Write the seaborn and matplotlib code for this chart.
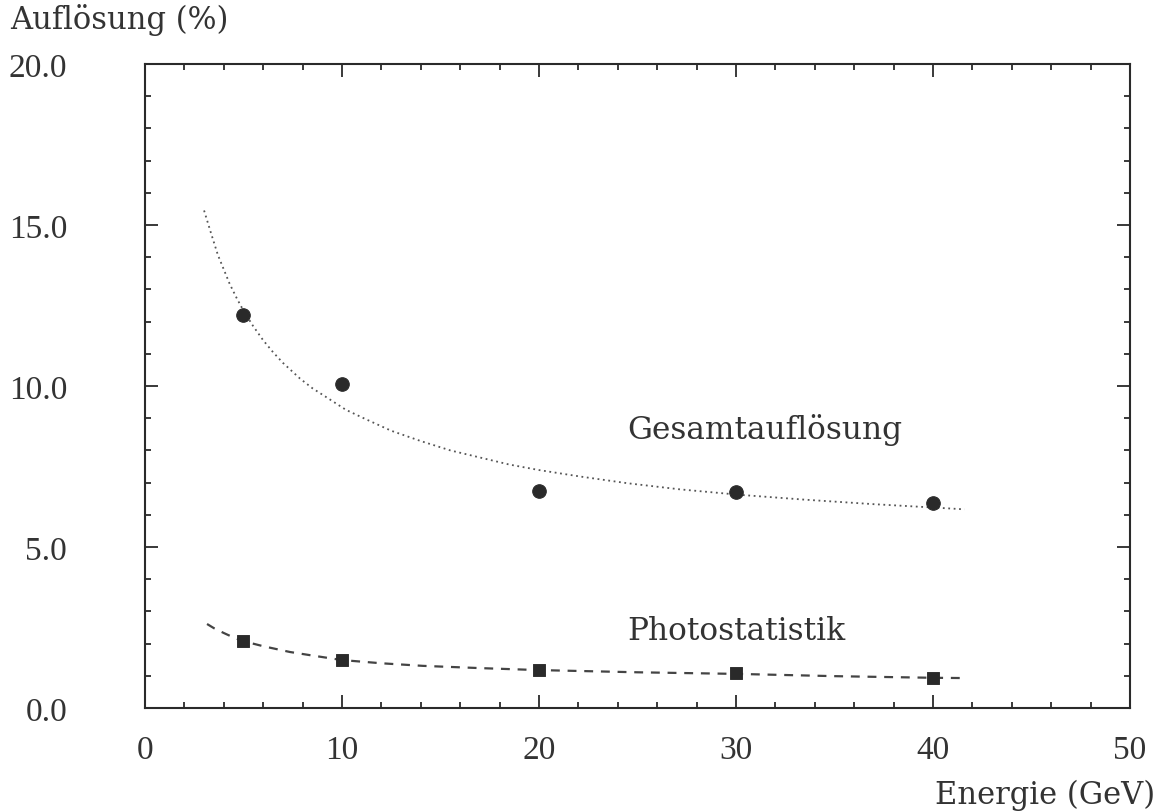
import matplotlib
matplotlib.use("Agg")
import matplotlib.pyplot as plt
import seaborn as sns
import pandas as pd
from matplotlib.ticker import MultipleLocator, FormatStrFormatter

# Messpunkte
energie = [5, 10, 20, 30, 40]
gesamt = [12.22, 10.05, 6.75, 6.72, 6.38]
photo = [2.08, 1.49, 1.18, 1.09, 0.93]

fit_gesamt_x = [3.0, 3.35, 3.7, 3.96, 4.3, 4.67, 5.0, 5.48, 6.0, 6.5, 7.0, 7.87, 8.5, 9.39,
                10.2, 11.17, 12.5, 14.0, 15.5, 17.0, 18.5, 20.0, 22.08, 24.5, 27.16, 30.2,
                33.5, 37.0, 40.2, 41.6]
fit_gesamt_y = [15.45, 14.75, 14.07, 13.68, 13.17, 12.71, 12.34, 11.87, 11.42, 11.05, 10.72,
                10.23, 9.93, 9.58, 9.26, 8.98, 8.61, 8.29, 8.00, 7.78, 7.56, 7.39, 7.19,
                6.98, 6.79, 6.62, 6.47, 6.33, 6.22, 6.17]
fit_photo_x = [3.15, 3.5, 4.0, 4.5, 4.97, 6.0, 7.36, 8.5, 10.0, 12.0, 14.1, 17.0, 19.9,
               25.0, 30.05, 35.0, 39.9, 41.7]
fit_photo_y = [2.61, 2.48, 2.33, 2.19, 2.08, 1.92, 1.74, 1.63, 1.49, 1.39, 1.31, 1.24, 1.18,
               1.11, 1.06, 0.99, 0.94, 0.93]

sns.set_theme(style="ticks")
plt.rcParams["font.family"] = ["DejaVu Serif"]
ink = "#2a2a2a"
txt = "#333333"

fig = plt.figure(figsize=(11.57, 8.12), dpi=100)
ax = fig.add_axes([0.1253, 0.1268, 0.8514, 0.7932])

df_g = pd.DataFrame({"x": fit_gesamt_x, "y": fit_gesamt_y})
df_p = pd.DataFrame({"x": fit_photo_x, "y": fit_photo_y})
sns.lineplot(data=df_g, x="x", y="y", ax=ax, color="#555555", lw=1.3,
             linestyle=(0, (1, 2)), sort=False)
sns.lineplot(data=df_p, x="x", y="y", ax=ax, color="#444444", lw=1.6,
             linestyle=(0, (4, 3.5)), sort=False)

sns.scatterplot(x=energie, y=gesamt, ax=ax, marker="o", s=95, color=ink, edgecolor=ink, zorder=5)
sns.scatterplot(x=energie, y=photo, ax=ax, marker="s", s=65, color=ink, edgecolor=ink, zorder=5)

ax.set_xlim(0, 50)
ax.set_ylim(0, 20)
ax.xaxis.set_major_locator(MultipleLocator(10))
ax.xaxis.set_minor_locator(MultipleLocator(2))
ax.yaxis.set_major_locator(MultipleLocator(5))
ax.yaxis.set_minor_locator(MultipleLocator(1))
ax.yaxis.set_major_formatter(FormatStrFormatter("%.1f"))

ax.tick_params(which="both", direction="in", top=True, right=True, color=ink, width=1.3)
ax.tick_params(which="major", length=9.5)
ax.tick_params(which="minor", length=4.5)
ax.tick_params(axis="x", which="major", pad=19, labelcolor=txt)
ax.tick_params(axis="y", which="major", pad=56, labelcolor=txt)
for lab in ax.get_xticklabels() + ax.get_yticklabels():
    lab.set_fontfamily("Liberation Serif")
    lab.set_fontsize(24)

for s in ax.spines.values():
    s.set_color(ink)
    s.set_linewidth(1.5)

ax.set_ylabel("Auflösung (%)", rotation=0, fontsize=22, color=txt, ha="left", va="center")
ax.yaxis.set_label_coords(-0.137, 1.07)
ax.set_xlabel("Energie (GeV)", fontsize=22, color=txt, ha="right", va="center")
ax.xaxis.set_label_coords(1.025, -0.134)

ax.text(24.5, 8.68, "Gesamtauflösung", fontsize=22.5, color=txt, va="center")
ax.text(24.5, 2.4, "Photostatistik", fontsize=22.5, color=txt, va="center")

fig.savefig("out.png", dpi=100)
